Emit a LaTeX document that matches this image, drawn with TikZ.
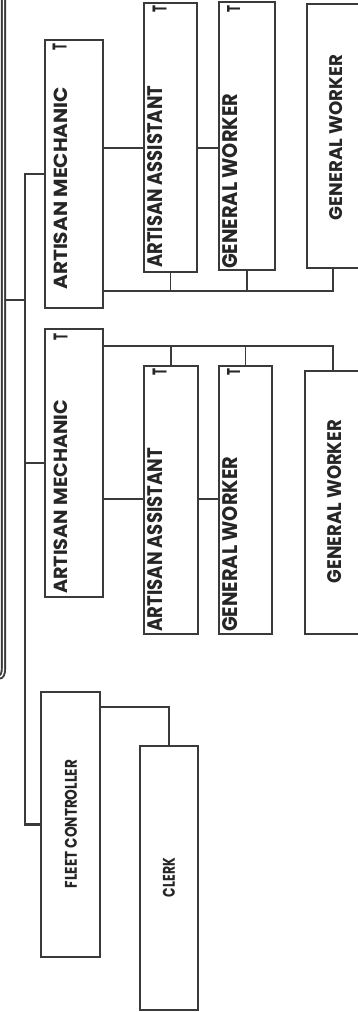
\documentclass[tikz,border=0pt]{standalone}
\usepackage{fontspec}
\setmainfont{Poppins}
\usepackage{graphicx}
\definecolor{linec}{HTML}{3A3A3A}
\definecolor{inkc}{HTML}{262626}
\begin{document}
\begin{tikzpicture}[x=1pt,y=-1pt,
  orgbox/.style={draw=linec, line width=1.5pt, inner sep=0pt, rectangle},
  wire/.style={draw=linec, line width=1.8pt},
  lbl/.style={inner sep=0pt, rotate=90, text=inkc, font=\bfseries},
  bar/.style={draw=linec, line width=1.9pt, double=white, double distance=1.4pt},
]
\useasboundingbox (0,0) rectangle (358,1012);
\clip (0,0) rectangle (358,1012);

% boxes
\node[orgbox, minimum width=58pt, minimum height=268pt] (am1) at (74,174) {};
\node[orgbox, minimum width=58pt, minimum height=268pt] (am2) at (74,463) {};
\node[orgbox, minimum width=53pt, minimum height=269pt] (aa1) at (170.5,137.5) {};
\node[orgbox, minimum width=54pt, minimum height=268pt] (aa2) at (171,500) {};
\node[orgbox, minimum width=56pt, minimum height=268pt] (gw1) at (247,136) {};
\node[orgbox, minimum width=53pt, minimum height=268pt] (gw2) at (245.5,500) {};
\node[orgbox, minimum width=58pt, minimum height=264pt] (gb1) at (336,136) {};
\node[orgbox, minimum width=60pt, minimum height=263pt] (gb2) at (335,502.5) {};
\node[orgbox, minimum width=59pt, minimum height=265pt] (fc) at (70.5,824.5) {};
\node[orgbox, minimum width=58pt, minimum height=264pt] (cl) at (169,878) {};

% labels
\node[lbl, anchor=south west] (tam1) at (68,290) {\resizebox{203pt}{13.5pt}{ARTISAN MECHANIC}};
\node[lbl, anchor=south west] (tam2) at (68,594) {\resizebox{194pt}{13.5pt}{ARTISAN MECHANIC}};
\node[lbl, anchor=south west] (taa1) at (163,268) {\resizebox{182pt}{15pt}{ARTISAN ASSISTANT}};
\node[lbl, anchor=south west] (taa2) at (163,632) {\resizebox{184pt}{15pt}{ARTISAN ASSISTANT}};
\node[lbl, anchor=south west] (tgw1) at (237.5,269) {\resizebox{175pt}{15pt}{GENERAL WORKER}};
\node[lbl, anchor=south west] (tgw2) at (238,632) {\resizebox{175pt}{15pt}{GENERAL WORKER}};
\node[lbl] (tgb1) at (336.5,137.5) {\resizebox{165pt}{13pt}{GENERAL WORKER}};
\node[lbl] (tgb2) at (334.5,501.5) {\resizebox{163pt}{14pt}{GENERAL WORKER}};
\node[lbl] (tfc) at (71,824) {\resizebox{128pt}{12pt}{FLEET CONTROLLER}};
\node[lbl] (tcl) at (169,877.5) {\resizebox{39pt}{12pt}{CLERK}};

% T markers
\node[lbl] (mam1) at (59.5,46.5) {\resizebox{7pt}{14pt}{T}};
\node[lbl] (mam2) at (60.5,336.5) {\resizebox{7pt}{14pt}{T}};
\node[lbl] (maa1) at (159.5,9) {\resizebox{7pt}{14pt}{T}};
\node[lbl] (maa2) at (159.5,371.5) {\resizebox{7pt}{14pt}{T}};
\node[lbl] (mgw1) at (233.5,9) {\resizebox{7pt}{13pt}{T}};
\node[lbl] (mgw2) at (233.5,371.5) {\resizebox{7pt}{13pt}{T}};

% routing coordinates
\coordinate (bus) at (25,0);
\coordinate (drop) at (333,0);
\coordinate (r1) at (0,148);
\coordinate (r2) at (0,291);
\coordinate (r3) at (0,346);
\coordinate (r4) at (0,499);
\coordinate (r5) at (0,707);
\coordinate (bartop) at (3.5,-6);
\coordinate (barbot) at (3.5,668);
\coordinate (barend) at (-1,677);
\coordinate (tap) at (6,300);

% side bar and its tap into the main bus
\draw[bar] (bartop) -- (barbot) .. controls (3.5,674) and (2,677) .. (barend);
\draw[wire] (tap) -- (tap -| bus);

% main bus
\draw[wire, line width=2.2pt] (am1.west) -- (am1.west -| bus) -- (fc.west -| bus) -- (fc.west);
\draw[wire] (am2.west) -- (am2.west -| bus);

% first mechanic group
\draw[wire] (am1.east |- r1) -- (aa1.west |- r1);
\draw[wire] (aa1.east |- r1) -- (gw1.west |- r1);
\draw[wire] (am1.east |- r2) -- (drop |- r2) -- (drop |- gb1.south);
\draw[wire] (aa1.south) -- (aa1.south |- r2);
\draw[wire] (gw1.south) -- (gw1.south |- r2);

% second mechanic group
\draw[wire] (am2.east |- r4) -- (aa2.west |- r4);
\draw[wire] (aa2.east |- r4) -- (gw2.west |- r4);
\draw[wire] (am2.east |- r3) -- (drop |- r3) -- (drop |- gb2.north);
\draw[wire] (aa2.north) -- (aa2.north |- r3);
\draw[wire] (gw2.north) -- (gw2.north |- r3);

% fleet controller to clerk
\draw[wire] (fc.east |- r5) -| (cl.north);
\end{tikzpicture}
\end{document}
